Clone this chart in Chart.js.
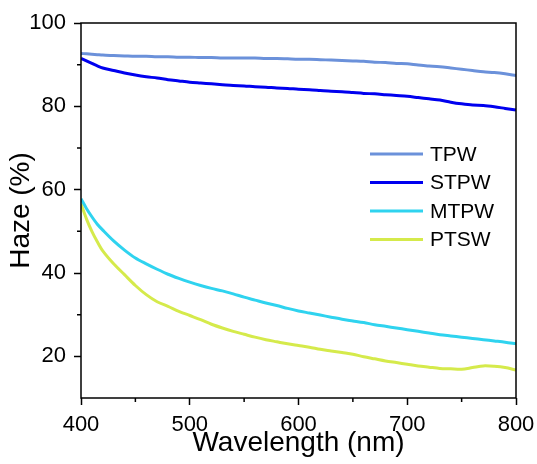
<!DOCTYPE html>
<html>
<head>
<meta charset="utf-8">
<script src="https://cdn.jsdelivr.net/npm/chart.js@4/dist/chart.umd.min.js"></script>
<style>
  html, body { margin: 0; padding: 0; background: #fff; }
  #wrap { width: 537px; height: 464px; }
</style>
</head>
<body>
<div id="wrap"><canvas id="haze"></canvas></div>
<script>
const wavelength = [400, 405, 410, 415, 420, 430, 440, 450, 460, 470, 480, 490, 500, 510, 520, 530, 540, 550, 560, 570, 580, 590, 600,
  610, 620, 630, 640, 650, 660, 670, 680, 690, 700, 710, 720, 730, 740, 750, 760, 770, 780, 790, 800];

const tpw = [92.7, 92.6, 92.5, 92.4, 92.3, 92.2, 92.1, 92.0, 92.0, 91.9, 91.9, 91.8, 91.8, 91.7, 91.7, 91.6, 91.6, 91.6, 91.6, 91.5, 91.5, 91.4, 91.3,
  91.3, 91.2, 91.1, 91.0, 90.9, 90.8, 90.6, 90.5, 90.3, 90.2, 89.9, 89.7, 89.5, 89.2, 88.9, 88.6, 88.3, 88.1, 87.8, 87.4];
const stpw = [91.5, 90.9, 90.3, 89.7, 89.2, 88.6, 88.0, 87.5, 87.1, 86.8, 86.4, 86.1, 85.8, 85.6, 85.4, 85.2, 85.0, 84.9, 84.7, 84.6, 84.4, 84.3, 84.1,
  84.0, 83.8, 83.6, 83.5, 83.3, 83.1, 83.0, 82.8, 82.6, 82.4, 82.1, 81.8, 81.5, 81.0, 80.6, 80.3, 80.2, 79.9, 79.5, 79.1];
const mtpw = [57.8, 55.5, 53.5, 51.7, 50.3, 47.7, 45.5, 43.6, 42.2, 40.9, 39.7, 38.7, 37.8, 37.0, 36.3, 35.7, 35.0, 34.2, 33.5, 32.8, 32.2, 31.5, 30.9,
  30.4, 29.9, 29.4, 28.9, 28.5, 28.1, 27.6, 27.2, 26.8, 26.4, 26.0, 25.6, 25.2, 24.9, 24.6, 24.3, 24.0, 23.7, 23.4, 23.0];
const ptsw = [56.6, 53.0, 50.0, 47.5, 45.3, 42.2, 39.6, 37.0, 34.8, 33.1, 32.0, 30.8, 29.8, 28.8, 27.7, 26.8, 26.0, 25.3, 24.6, 24.0, 23.5, 23.0, 22.6,
  22.2, 21.7, 21.3, 20.9, 20.5, 19.9, 19.4, 18.9, 18.5, 18.1, 17.7, 17.4, 17.1, 17.0, 16.9, 17.3, 17.7, 17.6, 17.3, 16.7];

const seriesNames = ['TPW', 'STPW', 'MTPW', 'PTSW'];
const xTicks = [400, 500, 600, 700, 800];
const yTicks = [20, 40, 60, 80, 100];
const xMinor = [450, 550, 650, 750];
const yMinor = [30, 50, 70, 90];

const colors = ['#6b91da', '#0000ef', '#2fd3ef', '#d5ea4b'];
const font = '"Liberation Sans", Arial, sans-serif';

function pts(vals) {
  return wavelength.map((w, i) => ({ x: w, y: vals[i] }));
}

// box frame, minor ticks and the in-plot legend
const frame = {
  id: 'frame',
  afterDraw(chart) {
    const { ctx, chartArea: a, scales } = chart;
    ctx.save();
    ctx.strokeStyle = '#000';
    ctx.lineWidth = 1.5;
    ctx.strokeRect(a.left, a.top, a.right - a.left, a.bottom - a.top);
    ctx.beginPath();
    xMinor.forEach(v => {
      const px = scales.x.getPixelForValue(v);
      ctx.moveTo(px, a.bottom);
      ctx.lineTo(px, a.bottom + 4);
    });
    yMinor.forEach(v => {
      const py = scales.y.getPixelForValue(v);
      ctx.moveTo(a.left, py);
      ctx.lineTo(a.left - 4, py);
    });
    ctx.stroke();

    ctx.font = '21px ' + font;
    ctx.textBaseline = 'middle';
    ctx.fillStyle = '#000';
    chart.data.datasets.forEach((ds, i) => {
      const y = 154 + i * 28.5;
      ctx.strokeStyle = ds.borderColor;
      ctx.lineWidth = 3;
      ctx.beginPath();
      ctx.moveTo(370, y);
      ctx.lineTo(423, y);
      ctx.stroke();
      ctx.fillText(ds.label, 430, y + 1);
    });
    ctx.restore();
  }
};

new Chart(document.getElementById('haze'), {
  type: 'line',
  data: {
    datasets: [tpw, stpw, mtpw, ptsw].map((s, i) => ({
      label: seriesNames[i],
      data: pts(s),
      borderColor: colors[i],
      borderWidth: 3,
      pointRadius: 0,
      tension: 0.3,
      fill: false
    }))
  },
  options: {
    responsive: true,
    maintainAspectRatio: false,
    animation: false,
    layout: { padding: { top: 23, right: 21, left: 0, bottom: 0 } },
    plugins: { legend: { display: false }, tooltip: { enabled: false } },
    scales: {
      x: {
        type: 'linear',
        min: 400,
        max: 800,
        afterBuildTicks: s => { s.ticks = xTicks.map(v => ({ value: v })); },
        afterFit: s => { s.height = 66; s.paddingLeft = 0; s.paddingRight = 0; },
        border: { display: false },
        grid: { drawOnChartArea: false, tickLength: 7, tickColor: '#000', tickWidth: 1.5 },
        ticks: { color: '#000', font: { family: font, size: 22 }, padding: 7, maxRotation: 0 },
        title: { display: true, text: 'Wavelength (nm)', color: '#000', font: { family: font, size: 28 }, padding: { top: 2 } }
      },
      y: {
        min: 10,
        max: 100,
        afterBuildTicks: s => { s.ticks = yTicks.map(v => ({ value: v })); },
        afterFit: s => { s.width = 81; s.paddingTop = 0; s.paddingBottom = 0; },
        border: { display: false },
        grid: { drawOnChartArea: false, tickLength: 7, tickColor: '#000', tickWidth: 1.5 },
        ticks: { color: '#000', font: { family: font, size: 22 }, padding: 8 },
        title: { display: true, text: 'Haze (%)', color: '#000', font: { family: font, size: 28 }, padding: { bottom: 0 } }
      }
    }
  },
  plugins: [frame]
});
</script>
</body>
</html>
